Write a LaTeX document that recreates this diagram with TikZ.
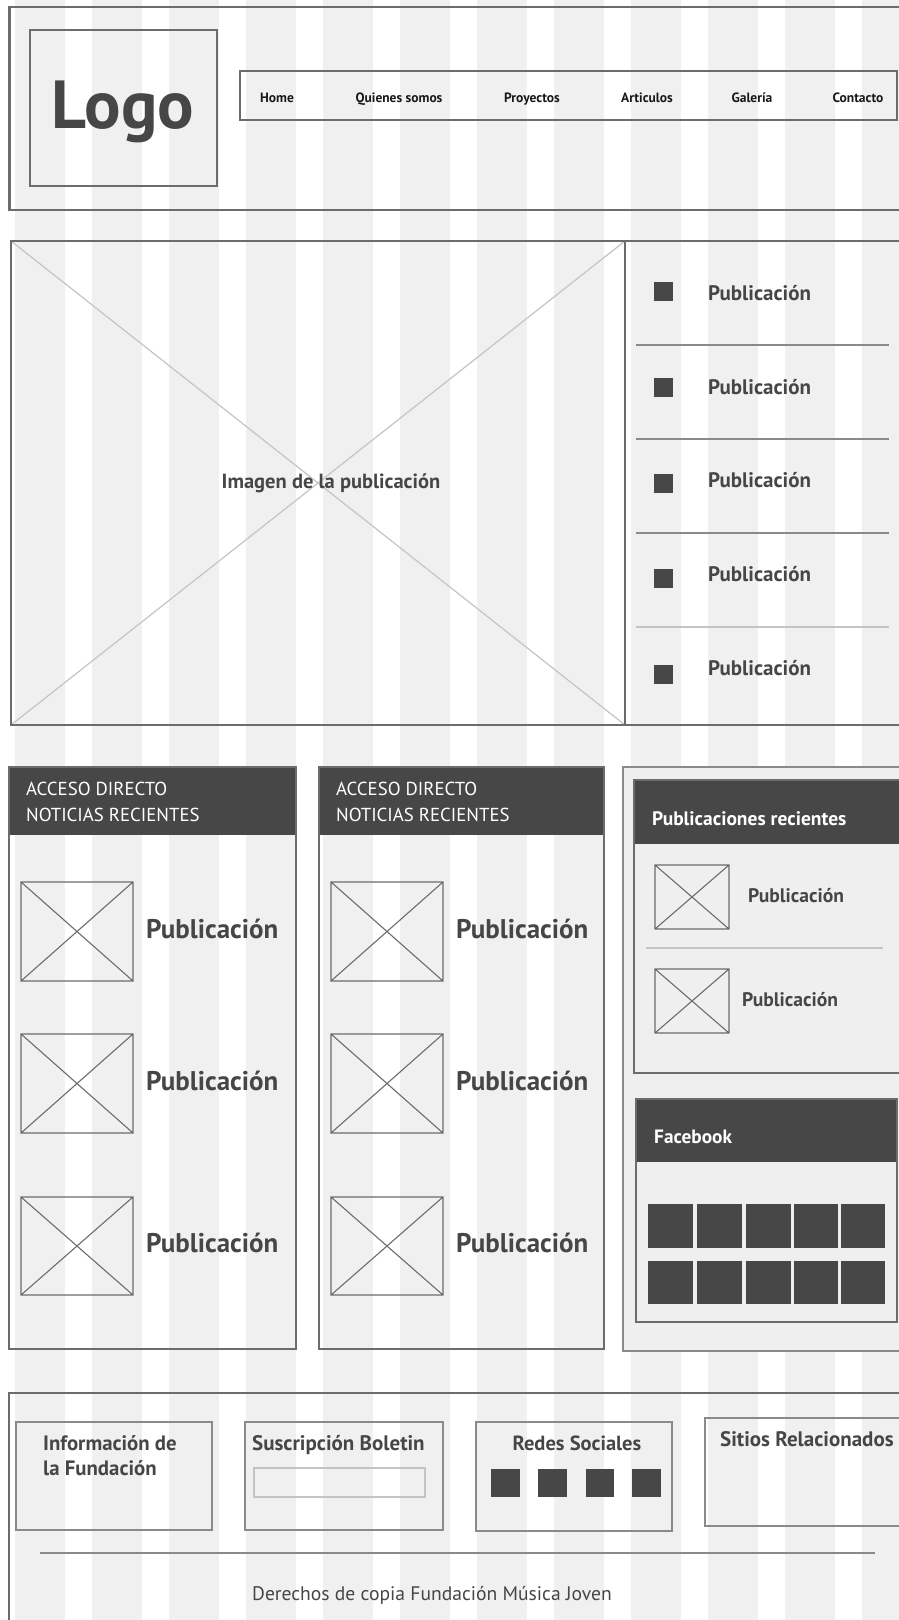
\documentclass[tikz,border=0pt]{standalone}
\usepackage{fontspec}
\setmainfont{PT Sans}
\definecolor{stripe}{HTML}{F0F0F0}
\definecolor{frm}{HTML}{6C6C6C}
\definecolor{thn}{HTML}{8A8A8A}
\definecolor{lgt}{HTML}{C4C4C4}
\definecolor{hd}{HTML}{474747}
\definecolor{tx}{HTML}{464646}
\definecolor{panel}{HTML}{EFEFEF}
\newcommand\fs[1]{\fontsize{#1}{#1}\selectfont}
\newcommand\thumbx[4]{\draw[thumbline] (#1,#2) rectangle (#3,#4) (#1,#2)--(#3,#4) (#1,#4)--(#3,#2);}
\tikzset{
  frame/.style={draw=frm, line width=2.5pt},
  boxline/.style={draw=frm, line width=2pt},
  thinbox/.style={draw=thn, line width=1.2pt},
  thumbline/.style={draw=frm, line width=1.1pt},
  sepline/.style={draw=thn, line width=1.2pt},
  lightsep/.style={draw=lgt, line width=2.4pt},
  btxt/.style={inner sep=0pt, font=\bfseries, text=tx},
  wtxt/.style={inner sep=0pt, text=white},
}
\begin{document}
\begin{tikzpicture}[x=1pt,y=-1pt]
\useasboundingbox (0,0) rectangle (899,1620);
\clip (0,0) rectangle (899,1620);
% background stripes
\fill[white] (0,0) rectangle (899,1620);
\foreach \k in {0,...,11} {\fill[stripe] (15+77*\k,0) rectangle (65+77*\k,1620);}

% ---------- header ----------
\draw[frame] (9.5,7) rectangle (905,210);
\draw[boxline] (30,30) rectangle (217,186);
\node[btxt, anchor=base, font=\bfseries\fs{68}] (logo) at (123,128) {Logo};
\draw[boxline] (240,71) rectangle (897,120);
\begin{scope}[every node/.style={inner sep=0pt, anchor=base, font=\bfseries\fs{13.5}, text=black!90}]
\node (n1) at (277,102.5) {Home};
\node (n2) at (399,102.5) {Quienes somos};
\node (n3) at (532,102.5) {Proyectos};
\node (n4) at (647,102.5) {Articulos};
\node (n5) at (752,102.5) {Galería};
\node (n6) at (858,102.5) {Contacto};
\end{scope}

% ---------- hero ----------
\draw[lgt, line width=1.2pt] (11,241)--(625,725) (11,725)--(625,241);
\draw[frame] (11,241) rectangle (905,725);
\draw[frame] (625,241)--(625,725);
\node[btxt, anchor=base, font=\bfseries\fs{20.5}] (himg) at (331,488) {Imagen de la publicación};
\foreach \t/\b [count=\i] in {282/300,378/394,474/487,569/581,665/675} {
  \fill[hd] (654,\t) rectangle (673,\t+19);
  \node[btxt, anchor=base west, font=\bfseries\fs{21}] (lp\i) at (708,\b) {Publicación};
}
\draw[sepline] (636,345)--(889,345) (636,439)--(889,439) (636,533)--(889,533);
\draw[lightsep] (636,627)--(889,627);

% ---------- row 3: columns ----------
\foreach \xa/\xb/\tx/\px [count=\c] in {9/296/26/146, 319/604/336/456} {
  \fill[hd] (\xa,767) rectangle (\xb,835);
  \draw[boxline] (\xa,767) rectangle (\xb,1349);
  \node[wtxt, anchor=base west, font=\fs{18.8}] (ca\c) at (\tx,795) {ACCESO DIRECTO};
  \node[wtxt, anchor=base west, font=\fs{18.8}] (cb\c) at (\tx,821) {NOTICIAS RECIENTES};
  \foreach \ya/\yb/\bl [count=\r] in {882/981/938, 1034/1133/1090, 1197/1295/1252} {
    \thumbx{\xa+12}{\ya}{\xa+124}{\yb}
    \node[btxt, anchor=base west, font=\bfseries\fs{27}] (cp\c\r) at (\px,\bl) {Publicación};
  }
}

% ---------- row 3: right ----------
\draw[thn, line width=1.5pt, fill=panel] (623,767) rectangle (905,1351);
\draw[boxline, fill=panel] (634,780) rectangle (905,1073);
\fill[hd] (634,780) rectangle (905,844);
\draw[boxline] (634,780) rectangle (905,1073);
\node[wtxt, anchor=base west, font=\bfseries\fs{19.5}] (prh) at (652,825) {Publicaciones recientes};
\thumbx{655}{865}{729}{929}
\thumbx{655}{969}{729}{1033}
\draw[lightsep, line width=2pt] (646,948)--(883,948);
\node[btxt, anchor=base west, font=\bfseries\fs{19.6}] (pr1) at (748,902) {Publicación};
\node[btxt, anchor=base west, font=\bfseries\fs{19.6}] (pr2) at (742,1006) {Publicación};

\draw[boxline, fill=panel] (636,1099) rectangle (897,1322);
\fill[hd] (636,1099) rectangle (897,1162);
\draw[boxline] (636,1099) rectangle (897,1322);
\node[wtxt, anchor=base west, font=\bfseries\fs{19.3}] (fb) at (654,1143) {Facebook};
\foreach \xa/\xb in {648/693, 697/742, 746/791, 794/838, 841/885} {
  \fill[hd] (\xa,1204) rectangle (\xb,1248);
  \fill[hd] (\xa,1261) rectangle (\xb,1304);
}

% ---------- footer ----------
\draw[frame] (9,1393) rectangle (905,1630);
\draw[thinbox] (16,1422) rectangle (212,1530);
\node[btxt, anchor=base west, font=\bfseries\fs{20.8}] (fi1) at (43,1450) {Información de};
\node[btxt, anchor=base west, font=\bfseries\fs{20.8}] (fi2) at (43,1475) {la Fundación};
\draw[thinbox] (245,1422) rectangle (443,1530);
\node[btxt, anchor=base west, font=\bfseries\fs{21}] (fs) at (252,1450) {Suscripción Boletin};
\draw[lgt, line width=2pt] (254,1468) rectangle (425,1497);
\draw[thinbox] (476,1422) rectangle (672,1531);
\node[btxt, anchor=base, font=\bfseries\fs{20.5}] (fr) at (577,1450) {Redes Sociales};
\foreach \xa/\xb in {491/520, 538/567, 586/614, 632/661} {\fill[hd] (\xa,1469) rectangle (\xb,1497);}
\draw[thinbox] (705,1418) rectangle (905,1526);
\node[btxt, anchor=base west, font=\bfseries\fs{21}] (fsr) at (720,1446) {Sitios Relacionados};
\draw[sepline] (40,1553)--(875,1553);
\node[inner sep=0pt, anchor=base west, font=\fs{19.6}, text=tx] (copy) at (252,1600) {Derechos de copia Fundación Música Joven};
\end{tikzpicture}
\end{document}
